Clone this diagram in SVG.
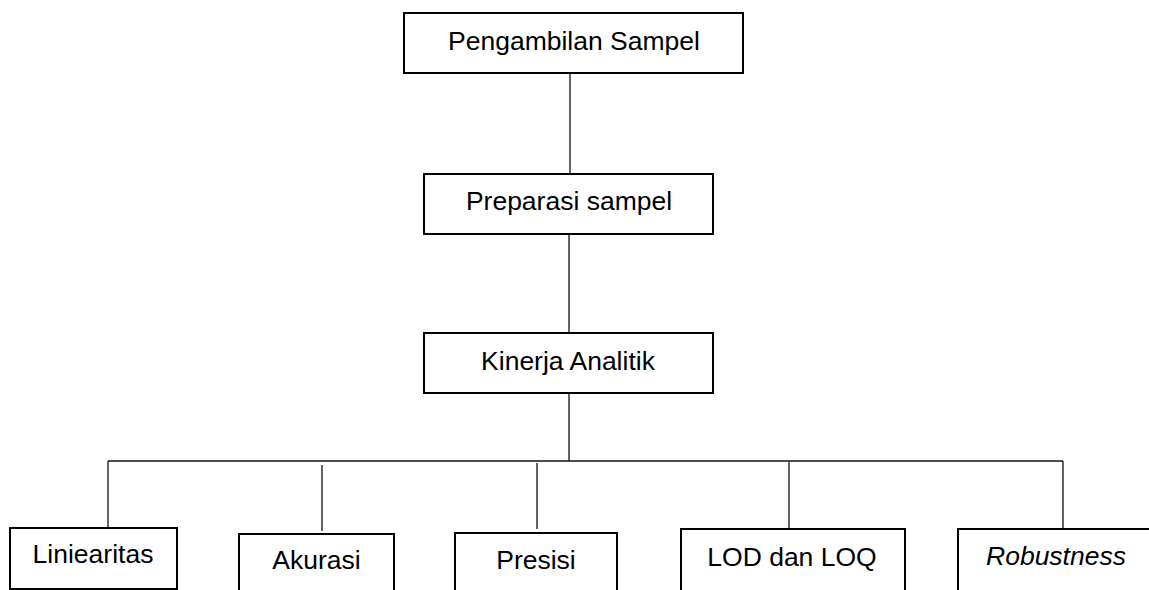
<svg xmlns="http://www.w3.org/2000/svg" width="1149" height="590" viewBox="0 0 1149 590">
<style>
.box{fill:#fff;stroke:#000;stroke-width:2}
.lbl{font-family:"Liberation Sans",Arial,sans-serif;font-size:26.5px;fill:#000;text-anchor:middle}
.it{font-style:italic}
.con{stroke:#111;stroke-width:1.3;fill:none}
</style>
<rect width="1149" height="590" fill="#fff"/>
<g id="connectors">
<line class="con" x1="570" y1="73" x2="570" y2="174"/>
<line class="con" x1="569" y1="234" x2="569" y2="333"/>
<line class="con" x1="569" y1="393" x2="569" y2="461"/>
<line class="con" x1="108" y1="461" x2="1063" y2="461"/>
<line class="con" x1="108" y1="461" x2="108" y2="528"/>
<line class="con" x1="322" y1="465" x2="322" y2="531"/>
<line class="con" x1="537" y1="463" x2="537" y2="529"/>
<line class="con" x1="789" y1="462" x2="789" y2="528"/>
<line class="con" x1="1063" y1="461" x2="1063" y2="528"/>
</g>
<g id="pengambilan">
<rect class="box" x="404" y="13" width="339" height="60"/>
<text class="lbl" x="574" y="50">Pengambilan Sampel</text>
</g>
<g id="preparasi">
<rect class="box" x="424" y="174" width="289" height="60"/>
<text class="lbl" x="569" y="210">Preparasi sampel</text>
</g>
<g id="kinerja">
<rect class="box" x="424" y="333" width="289" height="60"/>
<text class="lbl" x="568" y="370">Kinerja Analitik</text>
</g>
<g id="liniearitas">
<rect class="box" x="10" y="528" width="167" height="61"/>
<text class="lbl" x="93" y="563">Liniearitas</text>
</g>
<g id="akurasi">
<rect class="box" x="239" y="534" width="155" height="62"/>
<text class="lbl" x="316.5" y="569">Akurasi</text>
</g>
<g id="presisi">
<rect class="box" x="455" y="533" width="162" height="62"/>
<text class="lbl" x="536" y="569">Presisi</text>
</g>
<g id="lod">
<rect class="box" x="681" y="529" width="224" height="62"/>
<text class="lbl" x="792" y="566">LOD dan LOQ</text>
</g>
<g id="robustness">
<rect class="box" x="958" y="529" width="200" height="62"/>
<text class="lbl it" x="1056" y="565">Robustness</text>
</g>
</svg>
